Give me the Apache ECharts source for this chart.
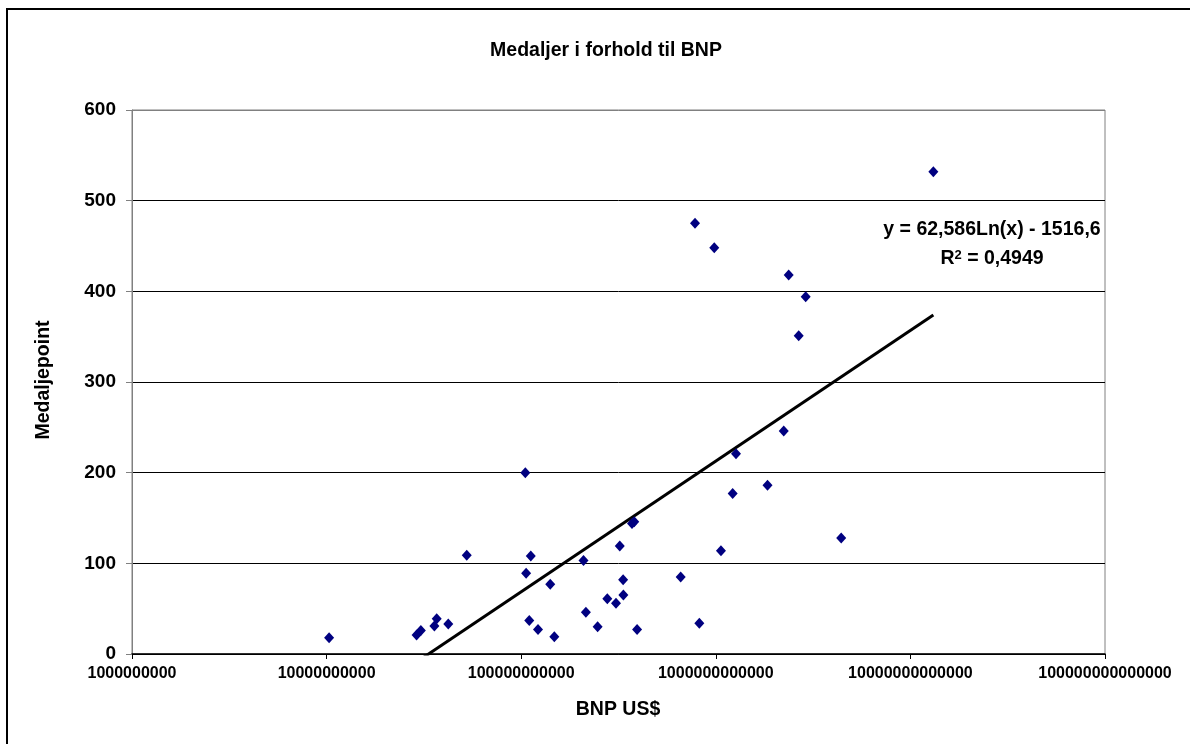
<!DOCTYPE html>
<html>
<head>
<meta charset="utf-8">
<script src="https://cdn.jsdelivr.net/npm/echarts@6/dist/echarts.min.js"></script>
<style>
html,body{margin:0;padding:0;background:#fff;}
#chart{width:1190px;height:744px;}
</style>
</head>
<body>
<div id="chart"></div>
<script>
// BNP (GDP) in US$
var gdp = [1.03e10, 2.90e10, 3.05e10, 3.58e10, 3.68e10, 4.22e10, 5.25e10,
  1.05e11, 1.06e11, 1.10e11, 1.12e11, 1.22e11, 1.41e11, 1.48e11,
  2.09e11, 2.15e11, 2.47e11, 2.77e11, 3.07e11, 3.21e11, 3.34e11, 3.35e11,
  3.71e11, 3.81e11, 3.94e11, 6.60e11, 7.82e11, 8.23e11, 9.82e11,
  1.063e12, 1.221e12, 1.270e12, 1.844e12, 2.234e12, 2.369e12, 2.667e12,
  2.897e12, 4.41e12, 1.312e13];
// Medaljepoint
var medals = [18, 21, 26, 31, 39, 33, 109,
  200, 89, 37, 108, 27, 77, 19,
  103, 46, 30, 61, 56, 119, 82, 65,
  144, 146, 27, 85, 475, 34, 448,
  114, 177, 221, 186, 246, 418, 351,
  394, 128, 532];
// logarithmic trendline y = a*ln(x) + b
var trendA = 62.586;
var trendB = -1516.6;
var trendLabel = 'y = 62,586Ln(x) - 1516,6';
var r2Value = '0,4949';
var xTickValues = [1e9, 1e10, 1e11, 1e12, 1e13, 1e14];
var xTickLabels = ['1000000000', '10000000000', '100000000000', '1000000000000', '10000000000000', '100000000000000'];
var yTickLabels = ['0', '100', '200', '300', '400', '500', '600'];

var points = gdp.map(function (g, i) { return [g, medals[i]]; });
var xMin = Math.min.apply(null, gdp), xMax = Math.max.apply(null, gdp);
var trend = [xMin, xMax].map(function (x) { return [x, trendA * Math.log(x) + trendB]; });

var FONT = 'Liberation Sans, Arial, sans-serif';
var chart = echarts.init(document.getElementById('chart'));
chart.setOption({
  animation: false,
  backgroundColor: '#fff',
  title: {
    text: 'Medaljer i forhold til BNP',
    left: 601, top: 36, textAlign: 'center',
    textStyle: { fontFamily: FONT, fontSize: 19.5, fontWeight: 'bold', color: '#000' }
  },
  grid: { left: 132, right: 85, top: 110, bottom: 90, show: true, borderColor: '#808080', borderWidth: 1, backgroundColor: 'transparent' },
  xAxis: {
    type: 'log', logBase: 10, min: 1e9, max: 1e14,
    axisLine: { show: true, lineStyle: { color: '#000', width: 1.5 } },
    axisTick: { show: true, inside: false, length: 5, lineStyle: { color: '#000' } },
    splitLine: { show: false },
    minorTick: { show: false },
    axisLabel: {
      margin: 12,
      fontFamily: FONT, fontSize: 16, fontWeight: 'bold', color: '#000',
      formatter: function (v) {
        var idx = xTickValues.findIndex(function (t) { return Math.abs(Math.log10(t) - Math.log10(v)) < 1e-6; });
        return idx >= 0 ? xTickLabels[idx] : '';
      }
    }
  },
  yAxis: {
    type: 'value', min: 0, max: 600, interval: 100,
    axisLine: { show: true, lineStyle: { color: '#808080', width: 1 } },
    axisTick: { show: true, inside: false, length: 6, lineStyle: { color: '#808080' } },
    splitLine: { show: true, lineStyle: { color: ['#000', '#000', '#000', '#000', '#000', '#000', '#808080'], width: 1 } },
    axisLabel: {
      margin: 16,
      fontFamily: FONT, fontSize: 19, fontWeight: 'bold', color: '#000',
      formatter: function (v) { return yTickLabels[Math.round(v / 100)]; }
    }
  },
  series: [
    {
      type: 'line', data: trend, symbol: 'none', clip: true,
      lineStyle: { color: '#000', width: 3 }, z: 3
    },
    {
      type: 'scatter', data: points, symbol: 'diamond', symbolSize: [10, 11],
      itemStyle: { color: '#000080', opacity: 1 }, z: 4
    }
  ],
  graphic: [
    { type: 'rect', shape: { x: 7, y: 9, width: 1250, height: 800 }, style: { fill: 'none', stroke: '#000', lineWidth: 2 }, z: 10, silent: true },
    { type: 'text', x: 44, y: 380, rotation: Math.PI / 2,
      style: { text: 'Medaljepoint', font: 'bold 19.5px ' + FONT, fill: '#000', align: 'center', verticalAlign: 'middle' } },
    { type: 'text', x: 618, y: 710,
      style: { text: 'BNP US$', font: 'bold 19.5px ' + FONT, fill: '#000', align: 'center', verticalAlign: 'middle' } },
    { type: 'text', x: 992, y: 230,
      style: { text: trendLabel, font: 'bold 19.5px ' + FONT, fill: '#000', align: 'center', verticalAlign: 'middle' } },
    { type: 'text', x: 992, y: 259,
      style: {
        text: '{b|R}{s|2}{b| = ' + r2Value + '}',
        fill: '#000', align: 'center', verticalAlign: 'middle',
        rich: {
          b: { fontFamily: FONT, fontSize: 19.5, fontWeight: 'bold', fill: '#000', verticalAlign: 'bottom' },
          s: { fontFamily: FONT, fontSize: 13, fontWeight: 'bold', fill: '#000', verticalAlign: 'top' }
        }
      } }
  ]
});
</script>
</body>
</html>
